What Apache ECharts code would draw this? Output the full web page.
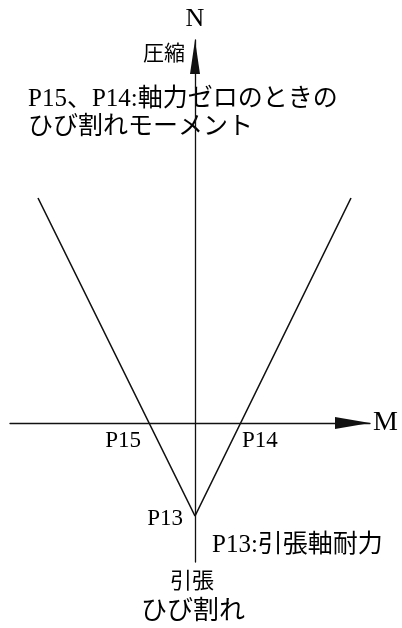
<!DOCTYPE html>
<html>
<head>
<meta charset="utf-8">
<script src="https://cdn.jsdelivr.net/npm/echarts@6/dist/echarts.min.js"></script>
<style>
  html, body { margin: 0; padding: 0; background: #fff; }
  #chart { width: 402px; height: 628px; }
</style>
</head>
<body>
<div id="chart"></div>
<script>
// M-N 相関 (ひび割れ) の模式図
const vLine = [[-157, 225], [0, -93], [156, 225]]
const pointNames = ['P15', 'P14', 'P13']
const pointM = [-46, 46, 0]
const pointN = [0, 0, -93]
const axisNames = ['M', 'N']
const captions = ['P15、P14:軸力ゼロのときの', 'ひび割れモーメント']

const latin = '"Liberation Serif", "Noto Sans CJK JP", serif'
const jp = '"Noto Sans CJK JP", sans-serif'

const labelPos = {
  P15: { align: 'right', position: [-8, 18] },
  P14: { align: 'left', position: [1, 18] },
  P13: { align: 'right', position: [-12, 3] }
}

const chart = echarts.init(document.getElementById('chart'))
chart.setOption({
  animation: false,
  backgroundColor: '#fff',
  grid: { left: 10, right: 32, top: 40, bottom: 66 },
  xAxis: {
    type: 'value',
    min: -185,
    max: 175,
    name: axisNames[0],
    nameLocation: 'end',
    nameGap: 3,
    nameTextStyle: { fontFamily: latin, fontSize: 28, color: '#000' },
    axisLine: {
      onZero: true,
      symbol: ['none', 'triangle'],
      symbolSize: [12, 35],
      symbolOffset: [0, -17.5],
      lineStyle: { color: '#111', width: 1.3 }
    },
    axisTick: { show: false },
    axisLabel: { show: false },
    splitLine: { show: false }
  },
  yAxis: {
    type: 'value',
    min: -139,
    max: 383,
    name: axisNames[1],
    nameLocation: 'end',
    nameGap: 8,
    nameTextStyle: { fontFamily: latin, fontSize: 26, color: '#000' },
    axisLine: {
      onZero: true,
      symbol: ['none', 'triangle'],
      symbolSize: [10, 34],
      symbolOffset: [0, -17],
      lineStyle: { color: '#111', width: 1.3 }
    },
    axisTick: { show: false },
    axisLabel: { show: false },
    splitLine: { show: false }
  },
  series: [
    {
      type: 'line',
      data: vLine,
      symbol: 'none',
      lineStyle: { color: '#111', width: 1.6 },
      silent: true
    },
    {
      type: 'scatter',
      symbolSize: 0.01,
      itemStyle: { color: '#000', opacity: 1 },
      label: {
        show: true,
        formatter: '{b}',
        fontFamily: latin,
        fontSize: 23,
        color: '#000',
        opacity: 1,
        verticalAlign: 'middle'
      },
      data: pointNames.map((n, i) => ({
        value: [pointM[i], pointN[i]],
        name: n,
        label: { position: labelPos[n].position, align: labelPos[n].align }
      }))
    }
  ],
  graphic: [
    {
      type: 'text', right: 217, top: 42,
      style: { text: '圧縮', font: '21px ' + jp, fill: '#000' }
    },
    {
      type: 'text', left: 28, top: 85,
      style: { text: captions.join('\n'), font: '25px ' + latin, lineHeight: 28, fill: '#000' }
    },
    {
      type: 'text', left: 212, top: 533,
      style: { text: 'P13:引張軸耐力', font: '25px ' + latin, fill: '#000' }
    },
    {
      type: 'text', left: 170, top: 569,
      style: { text: '引張', font: '22px ' + jp, fill: '#000' }
    },
    {
      type: 'text', left: 141, top: 596,
      style: { text: 'ひび割れ', font: '26px ' + jp, fill: '#000' }
    }
  ]
})
</script>
</body>
</html>
